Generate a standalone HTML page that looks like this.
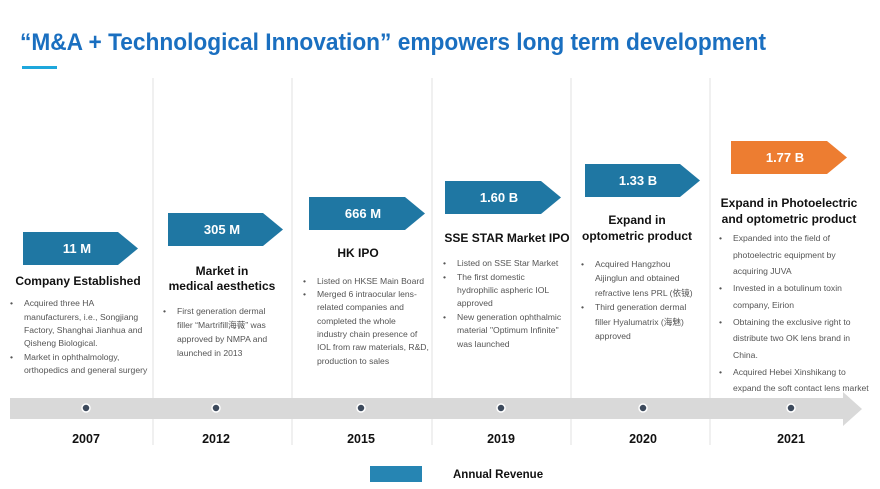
<!DOCTYPE html>
<html><head><meta charset="utf-8"><style>
html,body{margin:0;padding:0;background:#fff;}
svg{display:block;font-family:"Liberation Sans","Noto Sans CJK SC",sans-serif;}
.h{font-weight:bold;font-size:12px;fill:#111;text-anchor:middle;}
.b{font-size:8.6px;fill:#555;}
.v{font-weight:bold;font-size:13px;fill:#fff;text-anchor:middle;}
.y{font-weight:bold;font-size:12.5px;fill:#111;text-anchor:middle;}
</style></head><body>
<svg width="880" height="489" viewBox="0 0 880 489">
<text x="20" y="50" font-size="24" font-weight="bold" fill="#1a6fc0" textLength="746" lengthAdjust="spacingAndGlyphs">“M&amp;A + Technological Innovation” empowers long term development</text>
<rect x="22" y="66" width="35" height="3" fill="#1ea7dc"/>
<g stroke="#e2e2e2" stroke-width="1">
<line x1="153" y1="78" x2="153" y2="445"/><line x1="292" y1="78" x2="292" y2="445"/>
<line x1="432" y1="78" x2="432" y2="445"/><line x1="571" y1="78" x2="571" y2="445"/>
<line x1="710" y1="78" x2="710" y2="445"/>
</g>
<polygon points="10,398 843,398 843,392 862,409 843,426 843,419 10,419" fill="#d9d9d9"/>
<g fill="#3d4a5c" stroke="#fff" stroke-width="1.5">
<circle cx="86" cy="408" r="4"/><circle cx="216" cy="408" r="4"/><circle cx="361" cy="408" r="4"/>
<circle cx="501" cy="408" r="4"/><circle cx="643" cy="408" r="4"/><circle cx="791" cy="408" r="4"/>
</g>
<text class="y" x="86" y="443">2007</text><text class="y" x="216" y="443">2012</text><text class="y" x="361" y="443">2015</text>
<text class="y" x="501" y="443">2019</text><text class="y" x="643" y="443">2020</text><text class="y" x="791" y="443">2021</text>
<rect x="370" y="466" width="52" height="16" fill="#2685b3"/>
<text x="453" y="478" font-size="11.5" font-weight="bold" fill="#111">Annual Revenue</text>
<g fill="#1f77a3">
<polygon points="23,232 118,232 138,248.5 118,265 23,265"/>
<polygon points="168,213 263,213 283,229.5 263,246 168,246"/>
<polygon points="309,197 405,197 425,213.5 405,230 309,230"/>
<polygon points="445,181 541,181 561,197.5 541,214 445,214"/>
<polygon points="585,164 680,164 700,180.5 680,197 585,197"/>
</g>
<polygon points="731,141 827,141 847,157.5 827,174 731,174" fill="#ed7d31"/>
<text class="v" x="77" y="253">11 M</text><text class="v" x="222" y="234">305 M</text>
<text class="v" x="363" y="218">666 M</text><text class="v" x="499" y="202">1.60 B</text>
<text class="v" x="638" y="185">1.33 B</text><text class="v" x="785" y="162">1.77 B</text>
<text class="h" x="78" y="285">Company Established</text>
<text class="h" x="222" y="275">Market in</text><text class="h" x="222" y="290">medical aesthetics</text>
<text class="h" x="358" y="257">HK IPO</text>
<text class="h" x="507" y="242">SSE STAR Market IPO</text>
<text class="h" x="637" y="224">Expand in</text><text class="h" x="637" y="240">optometric product</text>
<text class="h" x="789" y="207">Expand in Photoelectric</text><text class="h" x="789" y="223">and optometric product</text>
<g class="b">
<text x="10" y="306">•</text><text x="24" y="306">Acquired three HA</text>
<text x="24" y="320">manufacturers, i.e., Songjiang</text>
<text x="24" y="333">Factory, Shanghai Jianhua and</text>
<text x="24" y="346">Qisheng Biological.</text>
<text x="10" y="360">•</text><text x="24" y="360">Market in ophthalmology,</text>
<text x="24" y="373">orthopedics and general surgery</text>
<text x="163" y="314">•</text><text x="177" y="314">First generation dermal</text>
<text x="177" y="328">filler “Martrifill海薇” was</text>
<text x="177" y="342">approved by NMPA and</text>
<text x="177" y="356">launched in 2013</text>
<text x="303" y="284">•</text><text x="317" y="284">Listed on HKSE Main Board</text>
<text x="303" y="297">•</text><text x="317" y="297">Merged 6 intraocular lens-</text>
<text x="317" y="310">related companies and</text>
<text x="317" y="324">completed the whole</text>
<text x="317" y="337">industry chain presence of</text>
<text x="317" y="350">IOL from raw materials, R&amp;D,</text>
<text x="317" y="364">production to sales</text>
<text x="443" y="266">•</text><text x="457" y="266">Listed on SSE Star Market</text>
<text x="443" y="280">•</text><text x="457" y="280">The first domestic</text>
<text x="457" y="293">hydrophilic aspheric IOL</text>
<text x="457" y="306">approved</text>
<text x="443" y="320">•</text><text x="457" y="320">New generation ophthalmic</text>
<text x="457" y="333">material "Optimum Infinite"</text>
<text x="457" y="347">was launched</text>
<text x="581" y="267">•</text><text x="595" y="267">Acquired Hangzhou</text>
<text x="595" y="281">Aijinglun and obtained</text>
<text x="595" y="296">refractive lens PRL (依镜)</text>
<text x="581" y="310">•</text><text x="595" y="310">Third generation dermal</text>
<text x="595" y="325">filler Hyalumatrix (海魅)</text>
<text x="595" y="339">approved</text>
<text x="719" y="241">•</text><text x="733" y="241">Expanded into the field of</text>
<text x="733" y="258">photoelectric equipment by</text>
<text x="733" y="274">acquiring JUVA</text>
<text x="719" y="291">•</text><text x="733" y="291">Invested in a botulinum toxin</text>
<text x="733" y="308">company, Eirion</text>
<text x="719" y="325">•</text><text x="733" y="325">Obtaining the exclusive right to</text>
<text x="733" y="341">distribute two OK lens brand in</text>
<text x="733" y="358">China.</text>
<text x="719" y="375">•</text><text x="733" y="375">Acquired Hebei Xinshikang to</text>
<text x="733" y="391">expand the soft contact lens market</text>
</g>
</svg>
</body></html>
